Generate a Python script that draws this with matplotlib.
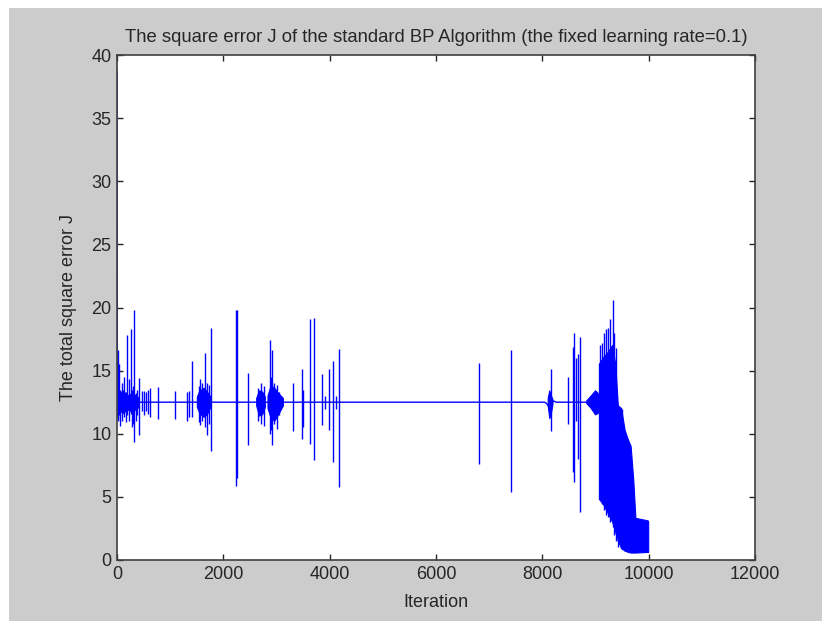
import matplotlib.pyplot as plt
import numpy as np
from matplotlib.patches import Rectangle

plt.rcParams['font.family'] = ['Liberation Sans', 'DejaVu Sans']

# steady part of the error curve (iteration, J)
base_iter = [0, 6, 4300, 8040, 8080, 8110, 8210, 8260, 8830, 9040]
base_val = [38.7, 12.5, 12.5, 12.5, 12.4, 12.2, 12.6, 12.5, 12.5, 12.5]

# isolated oscillations: iteration, highest and lowest J
spike_iter = [10, 25, 40, 60, 90, 130, 160, 182, 220, 257, 280, 300, 326, 350, 380, 420,
              470, 500, 540, 580, 620,
              778, 1091, 1323, 1360, 1417, 1540, 1560, 1600, 1650, 1700, 1730, 1768, 2243, 2255,
              2458, 2650, 2700, 2760, 2870, 2900, 2920, 2960, 3000, 3050, 3304, 3473, 3500, 3630,
              3706, 3850, 3920, 3988, 4069, 4120, 4182,
              6816, 7418, 8164, 8490, 8571, 8600, 8640, 8666, 8700,
              9080, 9120, 9160, 9200, 9240, 9280, 9323, 9350, 9380, 9430, 9490, 9560]
spike_hi = [16.6, 14.5, 15.5, 13.5, 14.0, 14.5, 13.3, 17.8, 14.3, 18.3, 13.5, 13.8, 19.8, 13.2, 13.5, 14.4,
            13.4, 13.4, 13.3, 13.5, 13.6,
            13.7, 13.4, 13.3, 13.4, 15.8, 13.8, 14.3, 14.0, 16.4, 14.0, 13.9, 18.4, 19.8, 19.8,
            14.8, 13.6, 14.0, 13.8, 17.4, 14.5, 16.6, 14.0, 13.9, 13.3, 14.0, 15.1, 13.5, 19.1,
            19.2, 14.7, 13.0, 15.1, 15.8, 13.0, 16.7,
            15.6, 16.6, 15.1, 14.5, 16.9, 18.0, 16.0, 16.3, 17.7,
            17.0, 17.2, 18.0, 18.3, 18.4, 19.1, 20.6, 18.0, 16.8, 12.2, 12.0, 10.2]
spike_lo = [11.2, 11.0, 11.5, 10.6, 11.0, 11.3, 10.9, 11.5, 11.0, 11.6, 10.5, 10.8, 9.35, 11.0, 11.5, 9.9,
            11.8, 11.5, 11.8, 11.6, 11.3,
            11.2, 11.2, 11.0, 11.3, 11.3, 10.9, 10.7, 11.0, 10.5, 9.9, 10.8, 8.6, 5.9, 6.5,
            9.1, 11.0, 10.8, 10.6, 10.0, 10.3, 9.1, 10.8, 10.4, 11.5, 10.2, 9.6, 10.5, 9.2,
            7.9, 10.7, 12.0, 10.3, 7.8, 12.0, 5.8,
            7.6, 5.4, 10.2, 10.8, 7.0, 6.2, 11.0, 8.0, 3.8,
            4.8, 4.4, 4.0, 3.6, 3.4, 3.0, 2.6, 2.0, 1.5, 1.0, 0.9, 0.7]

# dense bursts drawn as envelopes, NaN separates one burst from the next
burst_iter = [0, 60, 120, 200, 300, 420, np.nan,
              1511, 1560, 1640, 1700, 1768, np.nan,
              2627, 2680, 2740, 2790, np.nan,
              2840, 2900, 2970, 3040, 3129, np.nan,
              8110, 8140, 8170, 8200, np.nan,
              8835, 8920, 9000, 9050, 9066, np.nan,
              9073, 9150, 9250, 9323, 9380, 9430, 9490, 9560, 9620, 9670, 9720, 9760, 9990, 10000]
burst_hi = [14.0, 13.2, 13.4, 13.0, 13.2, 12.8, np.nan,
            12.9, 13.4, 13.6, 13.3, 12.9, np.nan,
            12.8, 13.4, 13.3, 12.9, np.nan,
            13.0, 13.8, 13.6, 13.2, 12.8, np.nan,
            12.8, 13.4, 13.0, 12.7, np.nan,
            12.6, 13.0, 13.4, 13.2, 12.9, np.nan,
            15.5, 16.0, 16.5, 17.0, 15.5, 12.2, 12.0, 10.2, 9.5, 9.0, 6.3, 3.3, 3.1, 3.0]
burst_lo = [11.4, 11.8, 11.6, 11.9, 11.7, 12.1, np.nan,
            12.1, 11.6, 11.3, 11.5, 12.1, np.nan,
            12.2, 11.4, 11.5, 12.1, np.nan,
            12.0, 11.2, 11.0, 11.5, 12.2, np.nan,
            12.2, 11.2, 11.6, 12.3, np.nan,
            12.4, 12.0, 11.5, 11.6, 11.9, np.nan,
            4.8, 4.4, 3.6, 3.0, 2.2, 1.5, 0.9, 0.7, 0.6, 0.55, 0.55, 0.55, 0.6, 0.6]

x_ticks = [0, 2000, 4000, 6000, 8000, 10000, 12000]
y_ticks = [0, 5, 10, 15, 20, 25, 30, 35, 40]

blue = '#0000ff'
ink = '#262626'

fig = plt.figure(figsize=(8.22, 6.21), dpi=100, facecolor='white')
fig.patches.append(Rectangle((9 / 822, 0), 1, 1 - 8 / 621, transform=fig.transFigure,
                             facecolor='#cccccc', edgecolor='none', zorder=-1))
ax = fig.add_axes([117 / 822, 1 - 560 / 621, 638 / 822, 505 / 621])
ax.set_facecolor('white')

ax.fill_between(burst_iter, burst_lo, burst_hi, color=blue, linewidth=0.8)
ax.vlines(spike_iter, spike_lo, spike_hi, color=blue, linewidth=1.0)
ax.plot(base_iter, base_val, color=blue, linewidth=1.0)

ax.set_xlim(0, 12000)
ax.set_ylim(0, 40)
ax.set_xticks(x_ticks)
ax.set_yticks(y_ticks)
ax.tick_params(direction='in', length=4.5, width=1.0, top=True, right=True,
               labelsize=13, colors=ink, pad=4)
for s in ax.spines.values():
    s.set_color('#404040')
    s.set_linewidth(1.2)

ax.set_title('The square error J of the standard BP Algorithm (the fixed learning rate=0.1)',
             fontsize=13.3, color=ink, pad=9)
ax.set_xlabel('Iteration', fontsize=13, color=ink, labelpad=8)
ax.set_ylabel('The total square error J', fontsize=13, color=ink, labelpad=10)

fig.savefig('out.png', dpi=100, facecolor=fig.get_facecolor())
